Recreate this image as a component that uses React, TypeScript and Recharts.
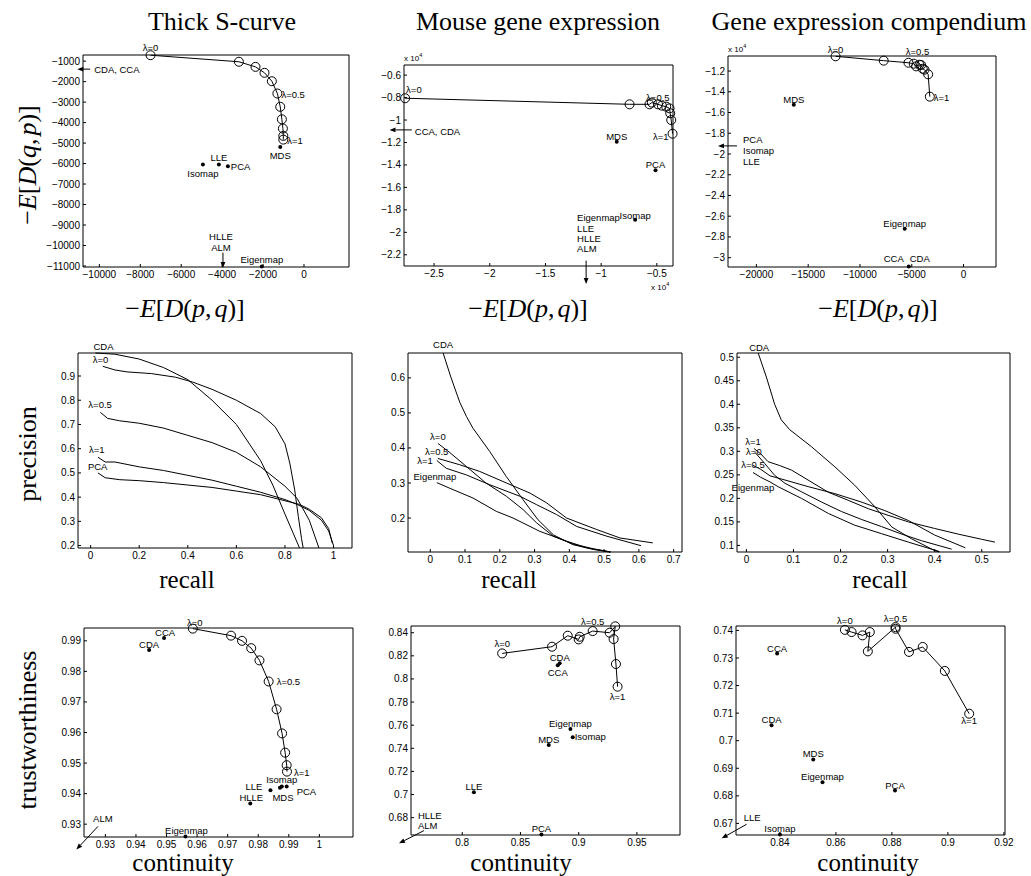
import React from "react";
import {
  ComposedChart,
  Line,
  ReferenceDot,
  ReferenceLine,
  Scatter,
  XAxis,
  YAxis,
} from "recharts";

type Pt = [number, number];
type Named = [string, number, number];

// ---------- Thick S-curve ----------
const sKlLambda: Pt[] = [
  [-7500, -710], [-3180, -1030], [-2370, -1280], [-1930, -1570], [-1570, -1980],
  [-1300, -2580], [-1160, -3230], [-1080, -3840], [-1030, -4290], [-1010, -4650], [-1010, -4830],
];
const sKlMethods: Named[] = [
  ["MDS", -1160, -5190], ["LLE", -4160, -6050], ["Isomap", -4940, -6050],
  ["PCA", -3720, -6130], ["Eigenmap", -2060, -11020],
];
const sKlOffscale: Pt[][] = [
  [[-10450, -1390], [-11080, -1390]], // CDA, CCA
  [[-3960, -10350], [-3960, -11100]], // HLLE, ALM
];
const sKlXTicks = [-10000, -8000, -6000, -4000, -2000, 0];
const sKlYTicks = [-11000, -10000, -9000, -8000, -7000, -6000, -5000, -4000, -3000, -2000, -1000];

const sPrCDA: Pt[] = [
  [0.02, 0.995], [0.1, 0.99], [0.2, 0.97], [0.3, 0.935], [0.4, 0.885], [0.5, 0.8],
  [0.6, 0.7], [0.7, 0.55], [0.75, 0.45], [0.8, 0.33], [0.86, 0.19],
];
const sPrL0: Pt[] = [
  [0.05, 0.94], [0.1, 0.925], [0.15, 0.917], [0.25, 0.91], [0.35, 0.895], [0.42, 0.875],
  [0.5, 0.845], [0.6, 0.8], [0.7, 0.745], [0.76, 0.69], [0.8, 0.62], [0.82, 0.54],
  [0.84, 0.43], [0.855, 0.32], [0.868, 0.23], [0.875, 0.19],
];
const sPrL05: Pt[] = [
  [0.04, 0.75], [0.07, 0.725], [0.12, 0.715], [0.2, 0.705], [0.3, 0.685], [0.4, 0.655],
  [0.5, 0.625], [0.6, 0.585], [0.7, 0.525], [0.8, 0.445], [0.85, 0.395], [0.9, 0.305], [0.94, 0.19],
];
const sPrL1: Pt[] = [
  [0.03, 0.565], [0.06, 0.545], [0.1, 0.545], [0.15, 0.535], [0.2, 0.525], [0.3, 0.51],
  [0.4, 0.49], [0.5, 0.47], [0.6, 0.445], [0.7, 0.42], [0.8, 0.39], [0.85, 0.37],
  [0.9, 0.345], [0.95, 0.305], [0.98, 0.26], [1.0, 0.2],
];
const sPrPCA: Pt[] = [
  [0.03, 0.5], [0.06, 0.48], [0.12, 0.472], [0.2, 0.468], [0.3, 0.46], [0.4, 0.45],
  [0.5, 0.44], [0.6, 0.425], [0.7, 0.41], [0.8, 0.385], [0.86, 0.37], [0.9, 0.35],
  [0.95, 0.315], [0.98, 0.27], [0.995, 0.21],
];
const sPrXTicks = [0, 0.2, 0.4, 0.6, 0.8, 1];
const sPrYTicks = [0.2, 0.3, 0.4, 0.5, 0.6, 0.7, 0.8, 0.9];

const sTcLambda: Pt[] = [
  [0.9586, 0.994], [0.9711, 0.9917], [0.9747, 0.99], [0.9777, 0.9876], [0.9804, 0.9836],
  [0.9834, 0.9767], [0.986, 0.9676], [0.9878, 0.9597], [0.9888, 0.9534], [0.9893, 0.9493], [0.9894, 0.9472],
];
const sTcMethods: Named[] = [
  ["CCA", 0.9492, 0.9909], ["CDA", 0.9443, 0.987], ["LLE", 0.984, 0.9411], ["MDS", 0.9871, 0.9419],
  ["Isomap", 0.9877, 0.9423], ["PCA", 0.9893, 0.9423], ["HLLE", 0.9774, 0.9368], ["Eigenmap", 0.9562, 0.926],
];
const sTcOffscale: Pt[][] = [[[0.9276, 0.9293], [0.9205, 0.9217]]]; // ALM
const sTcXTicks = [0.93, 0.94, 0.95, 0.96, 0.97, 0.98, 0.99, 1];
const sTcYTicks = [0.93, 0.94, 0.95, 0.96, 0.97, 0.98, 0.99];

// ---------- Mouse gene expression (row 1 in units of 10^4) ----------
const mouseKlLambda: Pt[] = [
  [-2.76, -0.806], [-0.745, -0.86], [-0.566, -0.86], [-0.545, -0.845], [-0.49, -0.86],
  [-0.455, -0.872], [-0.416, -0.881], [-0.386, -0.896], [-0.38, -0.94], [-0.371, -1.0], [-0.359, -1.122],
];
const mouseKlMethods: Named[] = [["MDS", -0.86, -1.193], ["PCA", -0.512, -1.447], ["Isomap", -0.695, -1.888]];
const mouseKlOffscale: Pt[][] = [
  [[-2.7, -1.088], [-2.9, -1.088]], // CCA, CDA
  [[-1.135, -2.252], [-1.135, -2.46]], // Eigenmap, LLE, HLLE, ALM
];
const mouseKlXTicks = [-2.5, -2, -1.5, -1, -0.5];
const mouseKlYTicks = [-2.2, -2, -1.8, -1.6, -1.4, -1.2, -1, -0.8, -0.6];

const mousePrCDA: Pt[] = [
  [0.037, 0.671], [0.06, 0.6], [0.085, 0.53], [0.104, 0.49], [0.123, 0.456], [0.171, 0.39],
  [0.219, 0.318], [0.267, 0.252], [0.31, 0.195], [0.354, 0.152], [0.41, 0.124], [0.47, 0.11], [0.517, 0.103],
];
const mousePrL0: Pt[] = [
  [0.022, 0.413], [0.056, 0.387], [0.104, 0.347], [0.16, 0.3], [0.219, 0.262], [0.267, 0.224],
  [0.306, 0.186], [0.354, 0.148], [0.41, 0.126], [0.47, 0.112], [0.52, 0.103],
];
const mousePrL05: Pt[] = [
  [0.022, 0.37], [0.085, 0.352], [0.142, 0.333], [0.219, 0.3], [0.287, 0.271], [0.335, 0.243],
  [0.392, 0.2], [0.479, 0.167], [0.546, 0.143], [0.64, 0.129],
];
const mousePrL1: Pt[] = [
  [0.019, 0.364], [0.046, 0.342], [0.104, 0.323], [0.171, 0.295], [0.258, 0.262], [0.306, 0.238],
  [0.363, 0.21], [0.421, 0.176], [0.508, 0.148], [0.606, 0.121],
];
const mousePrEig: Pt[] = [
  [0.019, 0.301], [0.056, 0.285], [0.123, 0.257], [0.19, 0.219], [0.238, 0.2], [0.315, 0.162],
  [0.392, 0.134], [0.45, 0.115], [0.517, 0.103],
];
const mousePrXTicks = [0, 0.1, 0.2, 0.3, 0.4, 0.5, 0.6, 0.7];
const mousePrYTicks = [0.2, 0.3, 0.4, 0.5, 0.6];

const mouseTcLambda: Pt[] = [
  [0.8343, 0.8221], [0.8771, 0.8279], [0.8906, 0.8374], [0.9, 0.8342], [0.9009, 0.8365],
  [0.912, 0.8414], [0.9266, 0.84], [0.9314, 0.8455], [0.93, 0.8345], [0.932, 0.8129], [0.9334, 0.7933],
];
const mouseTcMethods: Named[] = [
  ["CDA", 0.8837, 0.8135], ["CCA", 0.882, 0.8118], ["Eigenmap", 0.8929, 0.7567], ["Isomap", 0.8949, 0.7495],
  ["MDS", 0.8743, 0.7429], ["LLE", 0.81, 0.702], ["PCA", 0.868, 0.6655],
];
const mouseTcOffscale: Pt[][] = [[[0.7671, 0.6688], [0.7457, 0.6578]]]; // HLLE, ALM
const mouseTcXTicks = [0.8, 0.85, 0.9, 0.95];
const mouseTcYTicks = [0.68, 0.7, 0.72, 0.74, 0.76, 0.78, 0.8, 0.82, 0.84];

// ---------- Gene expression compendium ----------
const compKlLambda: Pt[] = [
  [-12355, -1.058], [-7710, -1.1], [-5320, -1.12], [-4810, -1.129], [-4580, -1.155],
  [-4260, -1.139], [-4100, -1.142], [-3940, -1.178], [-3770, -1.187], [-3420, -1.232], [-3260, -1.447],
];
const compKlMethods: Named[] = [["MDS", -16390, -1.524], ["Eigenmap", -5680, -2.722], ["CCA/CDA", -5290, -3.085]];
const compKlOffscale: Pt[][] = [[[-21870, -1.922], [-23710, -1.922]]]; // PCA, Isomap, LLE
const compKlXTicks = [-20000, -15000, -10000, -5000, 0];
const compKlYTicks = [-3, -2.8, -2.6, -2.4, -2.2, -2, -1.8, -1.6, -1.4, -1.2];

const compPrCDA: Pt[] = [
  [0.025, 0.509], [0.043, 0.456], [0.06, 0.4], [0.074, 0.367], [0.092, 0.346], [0.138, 0.31],
  [0.188, 0.267], [0.23, 0.228], [0.273, 0.182], [0.309, 0.139], [0.351, 0.114], [0.4, 0.089], [0.41, 0.086],
];
const compPrL1: Pt[] = [
  [0.016, 0.306], [0.03, 0.295], [0.046, 0.278], [0.07, 0.27], [0.096, 0.26], [0.131, 0.239],
  [0.174, 0.213], [0.216, 0.196], [0.259, 0.178], [0.301, 0.164], [0.344, 0.15], [0.4, 0.136],
  [0.45, 0.124], [0.5, 0.113], [0.528, 0.107],
];
const compPrL0: Pt[] = [
  [0.018, 0.298], [0.039, 0.274], [0.06, 0.249], [0.082, 0.232], [0.117, 0.214], [0.16, 0.192],
  [0.202, 0.172], [0.245, 0.155], [0.287, 0.14], [0.33, 0.124], [0.372, 0.11], [0.436, 0.092],
];
const compPrL05: Pt[] = [
  [0.014, 0.27], [0.03, 0.262], [0.05, 0.248], [0.082, 0.239], [0.131, 0.225], [0.188, 0.21],
  [0.245, 0.192], [0.294, 0.174], [0.344, 0.153], [0.4, 0.122], [0.465, 0.095],
];
const compPrEig: Pt[] = [
  [0.014, 0.255], [0.03, 0.245], [0.05, 0.235], [0.067, 0.225], [0.117, 0.2], [0.174, 0.168],
  [0.23, 0.143], [0.287, 0.125], [0.344, 0.107], [0.4, 0.09], [0.41, 0.087],
];
const compPrXTicks = [0, 0.1, 0.2, 0.3, 0.4, 0.5];
const compPrYTicks = [0.1, 0.15, 0.2, 0.25, 0.3, 0.35, 0.4, 0.45, 0.5];

const compTcLambda: Pt[] = [
  [0.8632, 0.7402], [0.8656, 0.7394], [0.8695, 0.7382], [0.8721, 0.7394], [0.8714, 0.7324],
  [0.8813, 0.7412], [0.8813, 0.7406], [0.8861, 0.7322], [0.891, 0.734], [0.8989, 0.7253], [0.9076, 0.7098],
];
const compTcMethods: Named[] = [
  ["CCA", 0.839, 0.7316], ["CDA", 0.837, 0.7056], ["MDS", 0.8519, 0.6932], ["Eigenmap", 0.8552, 0.6849],
  ["PCA", 0.8811, 0.6819], ["Isomap", 0.84, 0.666],
];
const compTcOffscale: Pt[][] = [[[0.8281, 0.6697], [0.8192, 0.6646]]]; // LLE
const compTcXTicks = [0.84, 0.86, 0.88, 0.9, 0.92];
const compTcYTicks = [0.67, 0.68, 0.69, 0.7, 0.71, 0.72, 0.73, 0.74];

// ---------- drawing ----------
const SANS = "'Liberation Sans', Arial, Helvetica, sans-serif";
const SERIF = "'Liberation Serif', 'Times New Roman', Times, serif";
const TICK = 3;
const ML = 60;
const MT = 30;
const MR = 30;
const MB = 40;

type Note = { at: Pt; text: string; dx: number; dy: number; anchor: "start" | "middle" | "end"; sup?: string };
type Spec = {
  box: [number, number, number, number];
  xd: Pt;
  yd: Pt;
  xt: number[];
  yt: number[];
  curves?: Pt[][];
  lambda?: Pt[];
  methods?: Named[];
  arrows?: Pt[][];
  notes: Note[];
};

const n = (at: Pt, text: string, dx: number, dy: number, anchor: Note["anchor"] = "middle", sup?: string): Note => ({
  at, text, dx, dy, anchor, sup,
});
const m = (list: Named[], name: string): Pt => {
  const r = list.find((d) => d[0] === name)!;
  return [r[1], r[2]];
};
const rows = (pts: Pt[]) => pts.map(([x, y]) => ({ x, y }));
const fmt = (v: number) => String(v).replace("-", "\u2212");

function arrowShape(p: any) {
  const { x1, y1, x2, y2 } = p;
  const a = Math.atan2(y2 - y1, x2 - x1);
  const L = 6;
  const W = 2.4;
  const bx = x2 - L * Math.cos(a);
  const by = y2 - L * Math.sin(a);
  const pts = `${x2},${y2} ${bx - W * Math.sin(a)},${by + W * Math.cos(a)} ${bx + W * Math.sin(a)},${by - W * Math.cos(a)}`;
  return (
    <g>
      <line x1={x1} y1={y1} x2={bx} y2={by} stroke="#000" strokeWidth={1} />
      <polygon points={pts} fill="#000" />
    </g>
  );
}

const dotShape = (p: any) => <circle cx={p.cx} cy={p.cy} r={2} fill="#000" />;

function Panel({ s }: { s: Spec }) {
  const [left, top, w, h] = s.box;
  const tickStyle = { fontSize: 10, fill: "#000", fontFamily: SANS };
  const ax = { stroke: "#000", strokeWidth: 1 };
  return (
    <div style={{ position: "absolute", left: left - ML, top: top - MT }}>
      <ComposedChart
        width={w + ML + MR}
        height={h + MT + MB}
        margin={{ top: MT - 1, right: MR - 1, bottom: 0, left: 0 }}
      >
        <XAxis type="number" dataKey="x" domain={s.xd} ticks={s.xt} interval={0} height={MB}
          tickSize={-TICK} tickMargin={TICK + 4} tickFormatter={fmt} tick={tickStyle} axisLine={ax} tickLine={ax} />
        <XAxis xAxisId="top" orientation="top" type="number" domain={s.xd} ticks={s.xt} interval={0} height={1}
          allowDataOverflow tickSize={-TICK} tick={false} axisLine={ax} tickLine={ax} />
        <YAxis type="number" dataKey="y" domain={s.yd} ticks={s.yt} interval={0} width={ML}
          tickSize={-TICK} tickMargin={TICK + 3} tickFormatter={fmt} tick={tickStyle} axisLine={ax} tickLine={ax} />
        <YAxis yAxisId="right" orientation="right" type="number" domain={s.yd} ticks={s.yt} interval={0} width={1}
          allowDataOverflow tickSize={-TICK} tick={false} axisLine={ax} tickLine={ax} />
        {(s.curves ?? []).map((c, i) => (
          <Line key={"c" + i} data={rows(c)} dataKey="y" type="linear" stroke="#000" strokeWidth={1}
            dot={false} activeDot={false} isAnimationActive={false} />
        ))}
        {s.lambda && (
          <Line data={rows(s.lambda)} dataKey="y" type="linear" stroke="#000" strokeWidth={1}
            dot={{ r: 4.5, fill: "none", stroke: "#000", strokeWidth: 1 }} activeDot={false} isAnimationActive={false} />
        )}
        {s.methods && (
          <Scatter data={s.methods.map(([name, x, y]) => ({ name, x, y }))} dataKey="y" shape={dotShape}
            isAnimationActive={false} />
        )}
        {(s.arrows ?? []).map((a, i) => (
          <ReferenceLine key={"a" + i} segment={[{ x: a[0][0], y: a[0][1] }, { x: a[1][0], y: a[1][1] }]}
            ifOverflow="visible" shape={arrowShape} />
        ))}
        {s.notes.map((t, i) => (
          <ReferenceDot key={"n" + i} x={t.at[0]} y={t.at[1]} r={1} ifOverflow="visible"
            shape={(p: any) => (
              <text x={p.cx + t.dx} y={p.cy + t.dy} textAnchor={t.anchor} fontSize={t.sup ? 8 : 9.5}
                fontFamily={SANS} fill="#000">
                {t.text}
                {t.sup && <tspan dy={-4} fontSize={5.5}>{t.sup}</tspan>}
              </text>
            )} />
        ))}
      </ComposedChart>
    </div>
  );
}

const specs: Spec[] = [
  {
    box: [83, 55, 266, 212], xd: [-10800, 2200], yd: [-11050, -700], xt: sKlXTicks, yt: sKlYTicks,
    lambda: sKlLambda, methods: sKlMethods, arrows: sKlOffscale,
    notes: [
      n(sKlLambda[0], "λ=0", 0, -4), n(sKlLambda[5], "λ=0.5", 4, 4, "start"), n(sKlLambda[10], "λ=1", 4, 4, "start"),
      n(m(sKlMethods, "MDS"), "MDS", 0, 12), n(m(sKlMethods, "LLE"), "LLE", 0, -4),
      n(m(sKlMethods, "Isomap"), "Isomap", 0, 12), n(m(sKlMethods, "PCA"), "PCA", 3, 4, "start"),
      n(m(sKlMethods, "Eigenmap"), "Eigenmap", 0, -3),
      n(sKlOffscale[1][0], "HLLE", -2, -13), n(sKlOffscale[1][0], "ALM", -2, -2),
      n(sKlOffscale[0][0], "CDA, CCA", 4, 4, "start"),
    ],
  },
  {
    box: [404, 65, 269, 201], xd: [-2.77, -0.355], yd: [-2.3, -0.51], xt: mouseKlXTicks, yt: mouseKlYTicks,
    lambda: mouseKlLambda, methods: mouseKlMethods, arrows: mouseKlOffscale,
    notes: [
      n(mouseKlLambda[0], "λ=0", 1, -5, "start"), n(mouseKlLambda[5], "λ=0.5", -4, -5),
      n(mouseKlLambda[10], "λ=1", -4, 6, "end"),
      n(m(mouseKlMethods, "MDS"), "MDS", 0, -2), n(m(mouseKlMethods, "PCA"), "PCA", 0, -2),
      n(m(mouseKlMethods, "Isomap"), "Isomap", 0, -1),
      n(mouseKlOffscale[0][0], "CCA, CDA", 3, 5, "start"),
      n(mouseKlOffscale[1][0], "Eigenmap", -9, -40, "start"), n(mouseKlOffscale[1][0], "LLE", -9, -29, "start"),
      n(mouseKlOffscale[1][0], "HLLE", -9, -19, "start"), n(mouseKlOffscale[1][0], "ALM", -9, -9, "start"),
      n([-2.77, -0.51], "x 10", 0, -4, "start", "4"), n([-0.355, -2.3], "x 10", -22, 24, "start", "4"),
    ],
  },
  {
    box: [728, 56, 268, 211], xd: [-22740, 3130], yd: [-3.09, -1.055], xt: compKlXTicks, yt: compKlYTicks,
    lambda: compKlLambda, methods: compKlMethods, arrows: compKlOffscale,
    notes: [
      n(compKlLambda[0], "λ=0", 0, -3), n(compKlLambda[5], "λ=0.5", -2, -10), n(compKlLambda[10], "λ=1", 4, 4, "start"),
      n(m(compKlMethods, "MDS"), "MDS", 0, -2), n(m(compKlMethods, "Eigenmap"), "Eigenmap", 0, -2),
      n(m(compKlMethods, "CCA/CDA"), "CCA", -15, -4), n(m(compKlMethods, "CCA/CDA"), "CDA", 11, -4),
      n(compKlOffscale[0][0], "PCA", 6, -3, "start"), n(compKlOffscale[0][0], "Isomap", 6, 8, "start"),
      n(compKlOffscale[0][0], "LLE", 6, 19, "start"),
      n([-22740, -1.055], "x 10", 0, -4, "start", "4"),
    ],
  },
  {
    box: [78, 353, 274, 195], xd: [-0.052, 1.076], yd: [0.19, 0.995], xt: sPrXTicks, yt: sPrYTicks,
    curves: [sPrCDA, sPrL0, sPrL05, sPrL1, sPrPCA],
    notes: [
      n(sPrCDA[0], "CDA", -2, -3, "start"), n(sPrL0[0], "λ=0", -10, -3, "start"),
      n(sPrL05[0], "λ=0.5", -12, -4, "start"), n(sPrL1[0], "λ=1", -9, -4, "start"),
      n(sPrPCA[0], "PCA", -10, -3, "start"),
    ],
  },
  {
    box: [408, 353, 274, 199], xd: [-0.064, 0.724], yd: [0.103, 0.671], xt: mousePrXTicks, yt: mousePrYTicks,
    curves: [mousePrCDA, mousePrL0, mousePrL05, mousePrL1, mousePrEig],
    notes: [
      n(mousePrCDA[0], "CDA", 0, -5), n(mousePrL0[0], "λ=0", 0, -3),
      n(mousePrL05[0], "λ=0.5", -13, -3, "start"), n(mousePrL1[0], "λ=1", -4, 3, "end"),
      n(mousePrEig[0], "Eigenmap", -2, -3),
    ],
  },
  {
    box: [737, 353, 273, 199], xd: [-0.02, 0.56], yd: [0.086, 0.509], xt: compPrXTicks, yt: compPrYTicks,
    curves: [compPrCDA, compPrL1, compPrL0, compPrL05, compPrEig],
    notes: [
      n(compPrCDA[0], "CDA", 1, -2), n(compPrL1[0], "λ=1", -1, -4), n(compPrL0[0], "λ=0", -1, 3),
      n(compPrL05[0], "λ=0.5", 0, 3), n(compPrEig[0], "Eigenmap", 0, 19),
    ],
  },
  {
    box: [84, 628, 269, 209], xd: [0.923, 1.011], yd: [0.9258, 0.9942], xt: sTcXTicks, yt: sTcYTicks,
    lambda: sTcLambda, methods: sTcMethods, arrows: sTcOffscale,
    notes: [
      n(sTcLambda[0], "λ=0", 2, -3), n(sTcLambda[5], "λ=0.5", 8, 4, "start"), n(sTcLambda[10], "λ=1", 7, 4, "start"),
      n(m(sTcMethods, "CCA"), "CCA", 1, -2), n(m(sTcMethods, "CDA"), "CDA", 0, -2),
      n(m(sTcMethods, "Isomap"), "Isomap", 0, -4), n(m(sTcMethods, "LLE"), "LLE", -8, 0, "end"),
      n(m(sTcMethods, "MDS"), "MDS", 3, 13), n(m(sTcMethods, "PCA"), "PCA", 10, 8, "start"),
      n(m(sTcMethods, "HLLE"), "HLLE", 1, -2), n(m(sTcMethods, "Eigenmap"), "Eigenmap", 1, -2),
      n(sTcOffscale[0][0], "ALM", -5, -4, "start"),
    ],
  },
  {
    box: [411, 626, 269, 209], xd: [0.756, 0.987], yd: [0.665, 0.8458], xt: mouseTcXTicks, yt: mouseTcYTicks,
    lambda: mouseTcLambda, methods: mouseTcMethods, arrows: mouseTcOffscale,
    notes: [
      n(mouseTcLambda[0], "λ=0", 0, -6), n(mouseTcLambda[5], "λ=0.5", 0, -6), n(mouseTcLambda[10], "λ=1", 0, 13),
      n(m(mouseTcMethods, "CDA"), "CDA", 0, -2), n(m(mouseTcMethods, "CCA"), "CCA", 0, 11),
      n(m(mouseTcMethods, "Eigenmap"), "Eigenmap", 0, -2), n(m(mouseTcMethods, "Isomap"), "Isomap", 2, 3, "start"),
      n(m(mouseTcMethods, "MDS"), "MDS", 0, -2), n(m(mouseTcMethods, "LLE"), "LLE", 0, -2),
      n(m(mouseTcMethods, "PCA"), "PCA", 0, -2),
      n(mouseTcOffscale[0][0], "HLLE", -6, -12, "start"), n(mouseTcOffscale[0][0], "ALM", -6, -2, "start"),
    ],
  },
  {
    box: [736, 626, 269, 209], xd: [0.8243, 0.9204], yd: [0.6658, 0.7416], xt: compTcXTicks, yt: compTcYTicks,
    lambda: compTcLambda, methods: compTcMethods, arrows: compTcOffscale,
    notes: [
      n(compTcLambda[0], "λ=0", 0, -6), n(compTcLambda[5], "λ=0.5", 0, -5), n(compTcLambda[10], "λ=1", 0, 10),
      n(m(compTcMethods, "CCA"), "CCA", 0, -2), n(m(compTcMethods, "CDA"), "CDA", 0, -2),
      n(m(compTcMethods, "MDS"), "MDS", 0, -2), n(m(compTcMethods, "Eigenmap"), "Eigenmap", 0, -2),
      n(m(compTcMethods, "PCA"), "PCA", 0, -2), n(m(compTcMethods, "Isomap"), "Isomap", 0, -2),
      n(compTcOffscale[0][0], "LLE", -3, -3, "start"),
    ],
  },
];

const titles: [string, number][] = [["Thick S-curve", 222], ["Mouse gene expression", 538], ["Gene expression compendium", 869]];

function MathD({ x, y, a, b, rotate }: { x: number; y: number; a: string; b: string; rotate?: boolean }) {
  return (
    <text x={x} y={y} textAnchor="middle" fontSize={26} fontFamily={SERIF}
      transform={rotate ? `rotate(-90 ${x} ${y})` : undefined}>
      <tspan>−</tspan>
      <tspan fontStyle="italic">E</tspan>
      <tspan>[</tspan>
      <tspan fontStyle="italic">D</tspan>
      <tspan>(</tspan>
      <tspan fontStyle="italic">{a}</tspan>
      <tspan>,</tspan>
      <tspan fontStyle="italic" dx={3}>{b}</tspan>
      <tspan>)]</tspan>
    </text>
  );
}

export default function App() {
  return (
    <div style={{ position: "absolute", left: 0, top: 0, width: 1031, height: 876, background: "#fff" }}>
      {specs.map((s, i) => (
        <Panel key={i} s={s} />
      ))}
      <svg width={1031} height={876} style={{ position: "absolute", left: 0, top: 0, pointerEvents: "none" }}>
        {titles.map(([t, x]) => (
          <text key={t} x={x} y={30} textAnchor="middle" fontSize={26} fontFamily={SERIF}>{t}</text>
        ))}
        <MathD x={36} y={165} a="q" b="p" rotate />
        {[185, 528, 878].map((x) => <MathD key={x} x={x} y={317} a="p" b="q" />)}
        {[187, 509, 880].map((x) => (
          <text key={x} x={x} y={588} textAnchor="middle" fontSize={25} fontFamily={SERIF}>recall</text>
        ))}
        {[183, 521, 868].map((x) => (
          <text key={x} x={x} y={871} textAnchor="middle" fontSize={25} fontFamily={SERIF}>continuity</text>
        ))}
        <text x={36} y={454} textAnchor="middle" fontSize={26} fontFamily={SERIF} transform="rotate(-90 36 454)">precision</text>
        <text x={36} y={730} textAnchor="middle" fontSize={26} fontFamily={SERIF} transform="rotate(-90 36 730)">trustworthiness</text>
      </svg>
    </div>
  );
}
